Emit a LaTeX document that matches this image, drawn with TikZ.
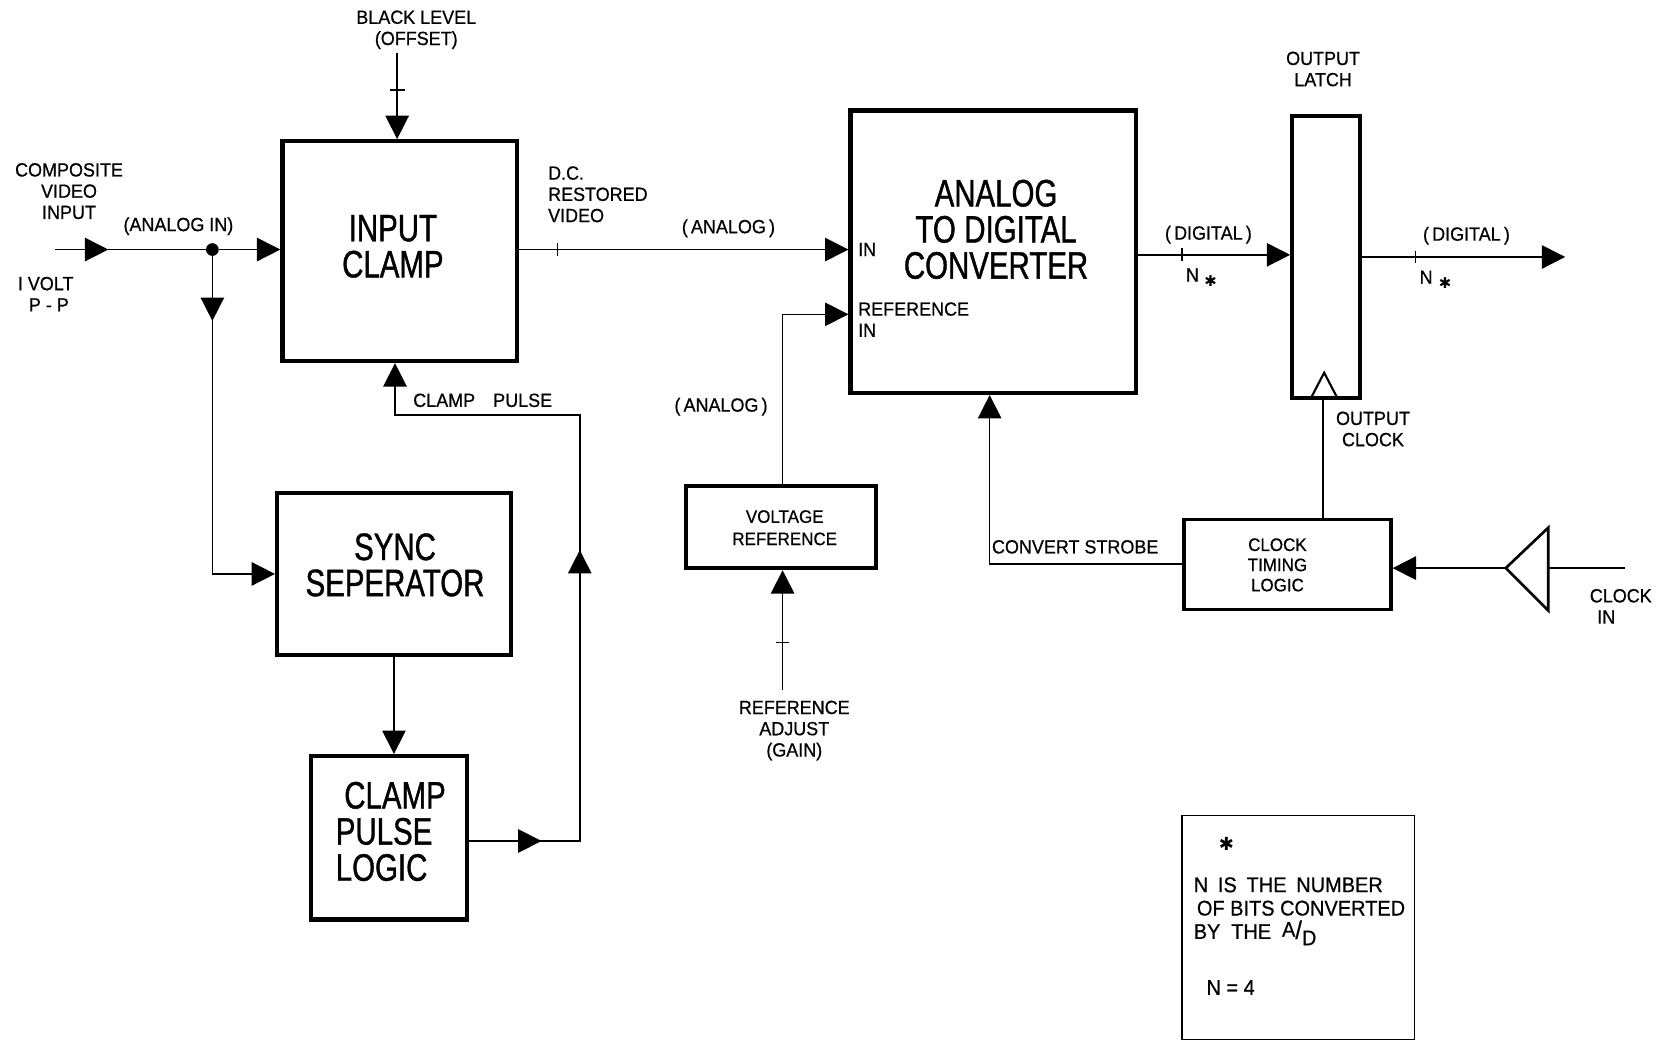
\documentclass[tikz,border=0pt]{standalone}
\usepackage{fontspec}
\setmainfont{Liberation Sans}[FakeStretch=0.94,FakeBold=0.6]
\newfontfamily\narrowfont{Liberation Sans}[FakeStretch=0.77,FakeBold=1]
\newfontfamily\symfont{DejaVu Sans}
\usetikzlibrary{arrows.meta,decorations.markings}

\begin{document}
\begin{tikzpicture}[x=1pt,y=-1pt,
  >={Triangle[length=22pt,width=22pt]},
  blk/.style={draw,line width=4pt,inner sep=0pt},
  wire/.style={line width=1.5pt},
  midtip/.style={postaction={decorate,decoration={markings,mark=at position #1 with {\arrow{>}}}}},
  lbl/.style={font=\fontsize{18}{20}\selectfont,align=center,inner sep=0pt},
  bigtxt/.style={font=\narrowfont\fontsize{36}{34}\selectfont,align=center,inner sep=0pt}]
\useasboundingbox (0,0) rectangle (1568,982);

% blocks
\node[blk,minimum width=221pt,minimum height=207pt] (clamp) at (376.5,236.5) {};
\node[blk,minimum width=220pt,minimum height=153pt] (sync) at (371,540.5) {};
\node[blk,minimum width=147pt,minimum height=154pt] (cpl) at (366.5,789) {};
\node[blk,minimum width=269pt,minimum height=266pt] (adc) at (935.5,237) {};
\node[blk,minimum width=64pt,minimum height=266pt] (latch) at (1249,242) {};
\node[blk,minimum width=179pt,minimum height=77pt] (vref) at (735.5,496.5) {};
\node[draw,line width=3pt,minimum width=195pt,minimum height=85pt] (ctl) at (1212.5,531.5) {};
\node[draw,line width=1.5pt,minimum width=219pt,minimum height=211pt] (note) at (1222.5,873.5) {};

\node[bigtxt] (clamptxt) at (370,232) {INPUT\\CLAMP};
\node[bigtxt] (synctxt) at (372,532) {SYNC\\SEPERATOR};
\node[bigtxt,align=left] (cpltxt) at (368,783) {\hspace{8pt}CLAMP\\PULSE\\LOGIC};
\node[bigtxt] (adctxt) at (938,216) {ANALOG\\TO\hspace{8pt}DIGITAL\\CONVERTER};
\node[lbl,font=\fontsize{17}{21}\selectfont] (vreftxt) at (739,497) {VOLTAGE\\REFERENCE};
\node[lbl,font=\fontsize{17}{19}\selectfont] (ctltxt) at (1203,532) {CLOCK\\TIMING\\LOGIC};

% clock input buffer and latch clock mark
\coordinate (buf) at (1418,535);
\coordinate (clkin) at (1530,535);
\draw[line width=2.5pt,line join=miter] (buf) -- (1458,497) -- (1458,575) -- cycle;
\draw[line width=2pt] (1235,374) -- (1247,351) -- (1259,374);

% connectors
\coordinate (vin) at (52,235);
\node[circle,fill,inner sep=0pt,minimum size=12pt] (dot) at (200,235) {};
\draw[wire,midtip=50pt] (vin) -- (dot);
\draw[wire,->] (dot) -- (clamp.west |- dot);
\draw[wire,->,midtip=61pt] (dot) |- (sync.west);
\draw[wire,->] (sync.south) -- (sync.south |- cpl.north);
\coordinate (cpa) at (546,792);
\coordinate (cpb) at (546,391);
\draw[wire,->,midtip=68pt,midtip=378pt] (cpl.east |- cpa) -- (cpa) -- (cpb) -| (clamp.south -| 372,0);
\coordinate (blev) at (374,50);
\draw[wire,->] (blev) -- (blev |- clamp.north);
\draw[wire] (367,85) -- (381,85);
\draw[wire,->] (clamp.east |- 0,235) -- (adc.west |- 0,235);
\draw[wire] (525,229) -- (525,241);
\draw[wire,->] (vref.north -| 737,0) |- (adc.west |- 0,296);
\coordinate (radj) at (737,650);
\draw[wire,->] (radj) -- (radj |- vref.south);
\draw[wire] (731,605) -- (743,605);
\draw[wire,->] (adc.east |- 0,240) -- (latch.west |- 0,240);
\draw[wire] (1113,234) -- (1113,246);
\coordinate (dout) at (1474,242);
\draw[wire,->] (latch.east |- dout) -- (dout);
\draw[wire] (1333,236) -- (1333,248);
\draw[wire,->] (ctl.west |- 0,531) -| (adc.south -| 932,0);
\draw[wire] (ctl.north -| 1246,0) -- (latch.south -| 1246,0);
\draw[wire,->] (buf) -- (ctl.east |- buf);
\draw[wire] (1458,535) -- (clkin);

% labels
\node[lbl] (blacklvl) at (392,28) {BLACK LEVEL\\(OFFSET)};
\node[lbl] (compvid) at (65,180) {COMPOSITE\\VIDEO\\INPUT};
\node[lbl] (volt) at (43,277) {I VOLT\\\hspace{6pt}P - P};
\node[lbl] (anin) at (168,213) {(ANALOG IN)};
\node[lbl,align=left,anchor=west] (dcrest) at (516,183) {D.C.\\RESTORED\\VIDEO};
\node[lbl] (antop) at (686,215) {(\,ANALOG\,)};
\node[lbl,anchor=west] (intxt) at (808,235) {IN};
\node[lbl,align=left,anchor=west] (refin) at (808,301) {REFERENCE\\IN};
\node[lbl] (anlow) at (679,383) {(\,ANALOG\,)};
\node[lbl,anchor=west] (cptxt) at (389,377) {CLAMP\hspace{17pt}PULSE};
\node[lbl] (refadj) at (748,688) {REFERENCE\\ADJUST\\(GAIN)};
\node[lbl,anchor=west] (strobe) at (934,515) {CONVERT STROBE};
\node[lbl] (outclk) at (1293,404) {OUTPUT\\CLOCK};
\node[lbl] (outlat) at (1246,65) {OUTPUT\\LATCH};
\node[lbl] (dig1) at (1138,221) {(\,DIGITAL\,)};
\node[lbl] (dig2) at (1381,222) {(\,DIGITAL\,)};
\node[lbl] (n1) at (1123,259) {N};
\node[lbl,font=\symfont\fontsize{14}{14}\selectfont] (s1) at (1140,265) {✱};
\node[lbl] (n2) at (1343,261) {N};
\node[lbl,font=\symfont\fontsize{14}{14}\selectfont] (s2) at (1361,267) {✱};
\node[lbl,align=left,anchor=west] (clktxt) at (1497,571) {CLOCK\\\hspace{7pt}IN};

% note
\node[lbl,font=\symfont\fontsize{17}{17}\selectfont] (star) at (1155,795) {✱};
\node[lbl,align=left,anchor=north west,font=\fontsize{20}{22}\selectfont] (notetxt) at (1124,826)
  {N\hspace{4pt} IS\hspace{4pt} THE\hspace{4pt} NUMBER\\\hspace{3pt}OF BITS CONVERTED\\BY\hspace{5pt} THE\hspace{5pt} \raisebox{2pt}{A}{\fontsize{24}{24}\selectfont/}\raisebox{-6pt}{D}};
\node[lbl,anchor=west,font=\fontsize{20}{22}\selectfont] (neq) at (1136,930) {N = 4};
\end{tikzpicture}
\end{document}
